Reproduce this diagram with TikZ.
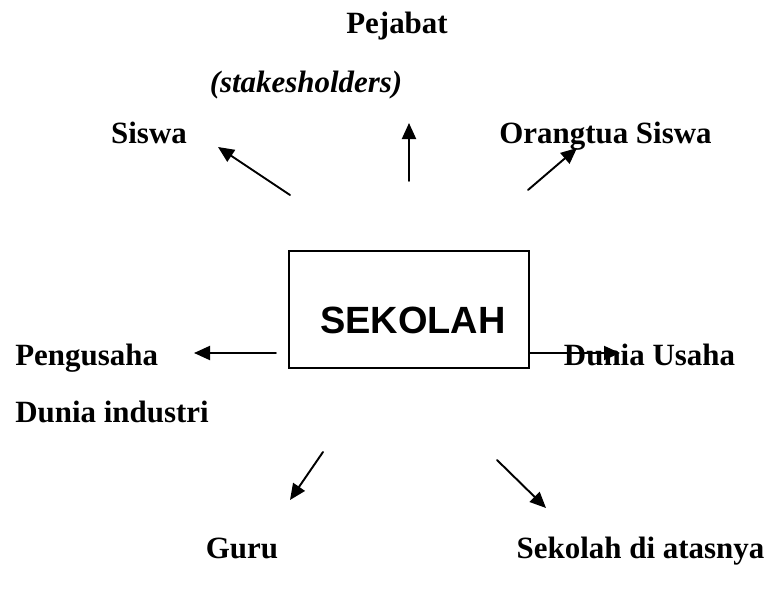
\documentclass[tikz,border=0pt]{standalone}
\usepackage{fontspec, tkz-euclide}
\usetikzlibrary{arrows.meta}
\setmainfont{Liberation Serif}
\setsansfont{Liberation Sans}
\tikzset{>={Triangle[length=0.32cm, width=0.28cm]}}
\tikzset{teks/.style={font=\fontsize{17.6}{20}\selectfont\bfseries, inner sep=0pt}}

\begin{document}
\begin{tikzpicture}
    \useasboundingbox (0,0) rectangle (15.46,11.82);
    \tkzDefPoints{5.80/7.92/A, 4.36/8.88/A', 8.18/8.20/B, 8.18/9.36/B',
        10.56/8.02/C, 11.54/8.86/C', 5.52/4.76/D, 3.88/4.76/D',
        10.58/4.76/E, 12.40/4.76/E', 6.46/2.78/F, 5.80/1.82/F',
        9.94/2.62/G, 10.92/1.66/G'}
    \node[draw, line width=1pt, minimum width=4.8cm, minimum height=2.34cm] (kotak) at (8.18,5.63) {};
    \node[anchor = base, inner sep=0pt, font=\fontsize{21.6}{24}\selectfont\sffamily\bfseries] (sekolah) at (8.26,5.16) {SEKOLAH};
    \tkzDrawSegments[->, line width=1.1pt](A,A' B,B' C,C' D,D' E,E' F,F' G,G')
    \node[teks, anchor = base] (pejabat) at (7.94,11.16) {Pejabat};
    \node[teks, anchor = base] (stakes) at (6.12,9.98) {\itshape (stakesholders)};
    \node[teks, anchor = base] (siswa) at (2.98,8.96) {Siswa};
    \node[teks, anchor = base] (ortu) at (12.11,8.96) {Orangtua Siswa};
    \node[teks, anchor = base west] (pengusaha) at (0.30,4.52) {Pengusaha};
    \node[teks, anchor = base west] (industri) at (0.30,3.38) {Dunia industri};
    \node[teks, anchor = base] (usaha) at (12.99,4.52) {Dunia Usaha};
    \node[teks, anchor = base] (guru) at (4.84,0.66) {Guru};
    \node[teks, anchor = base] (atas) at (12.81,0.66) {Sekolah di atasnya};
\end{tikzpicture}
\end{document}
